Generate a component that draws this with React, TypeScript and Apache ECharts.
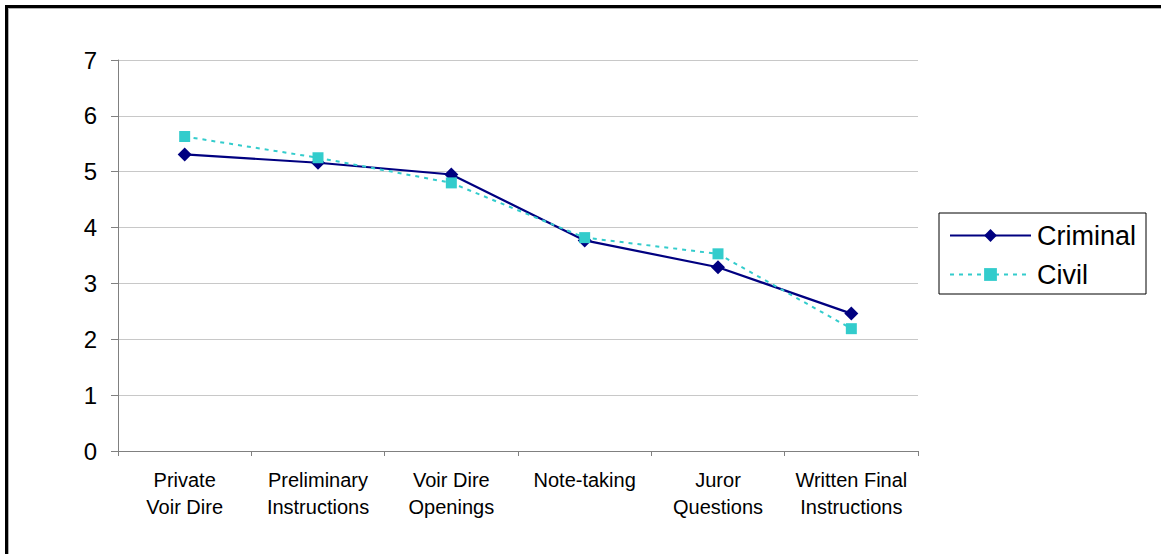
import React, { useEffect, useRef } from "react";
import * as echarts from "echarts";

const categories = [
  "Private\nVoir Dire",
  "Preliminary\nInstructions",
  "Voir Dire\nOpenings",
  "Note-taking",
  "Juror\nQuestions",
  "Written Final\nInstructions",
];
const criminalValues = [5.31, 5.16, 4.95, 3.77, 3.29, 2.46];
const civilValues = [5.63, 5.25, 4.8, 3.82, 3.53, 2.19];
const yTicks = { min: 0, max: 7, interval: 1 };

const FONT = "'Liberation Sans', Arial, sans-serif";

export default function App() {
  const ref = useRef<HTMLDivElement>(null);
  useEffect(() => {
    if (!ref.current) return;
    const chart = echarts.init(ref.current, undefined, { renderer: "svg" });
    chart.setOption({
      animation: false,
      backgroundColor: "#ffffff",
      textStyle: { fontFamily: FONT },
      grid: { left: 118, right: 243, top: 60, bottom: 103, containLabel: false },
      xAxis: {
        type: "category",
        data: categories,
        boundaryGap: true,
        axisLine: { show: true, lineStyle: { color: "#808080", width: 1 } },
        axisTick: { show: true, length: 5, alignWithLabel: false, lineStyle: { color: "#808080" } },
        axisLabel: {
          interval: 0,
          fontSize: 20,
          lineHeight: 27,
          color: "#000000",
          fontFamily: FONT,
          margin: 15,
        },
        splitLine: { show: false },
      },
      yAxis: {
        type: "value",
        min: yTicks.min,
        max: yTicks.max,
        interval: yTicks.interval,
        axisLine: { show: true, lineStyle: { color: "#808080", width: 1 } },
        axisTick: { show: true, length: 7, inside: false, lineStyle: { color: "#808080" } },
        axisLabel: { fontSize: 24, color: "#000000", fontFamily: FONT, margin: 21 },
        splitLine: { show: true, lineStyle: { color: "#c8c8c8", width: 1 } },
      },
      legend: {
        orient: "vertical",
        left: 939,
        top: 213,
        padding: [9, 10, 6, 10],
        borderColor: "#000000",
        borderWidth: 1,
        itemWidth: 81,
        itemHeight: 16,
        itemGap: 12,
        textStyle: {
          fontSize: 27,
          color: "#000000",
          fontFamily: FONT,
          padding: [0, 0, 0, 1],
        },
        data: ["Criminal", "Civil"],
      },
      graphic: [
        { type: "rect", shape: { x: 5, y: 5, width: 1161, height: 3 }, style: { fill: "#000000" }, silent: true },
        { type: "rect", shape: { x: 5, y: 5, width: 3, height: 560 }, style: { fill: "#000000" }, silent: true },
        { type: "rect", shape: { x: 8, y: 8, width: 1161, height: 1 }, style: { fill: "#b0b0b0" }, silent: true },
        { type: "rect", shape: { x: 8, y: 8, width: 1, height: 560 }, style: { fill: "#b0b0b0" }, silent: true },
      ],
      series: [
        {
          name: "Criminal",
          type: "line",
          data: criminalValues,
          symbol: "diamond",
          symbolSize: 14,
          lineStyle: { color: "#000080", width: 2.2, type: "solid" },
          itemStyle: { color: "#000080" },
          z: 3,
        },
        {
          name: "Civil",
          type: "line",
          data: civilValues,
          symbol: "rect",
          symbolSize: 11,
          lineStyle: { color: "#33cccc", width: 2, type: [4, 5] },
          itemStyle: { color: "#33cccc" },
          z: 4,
        },
      ],
    });
    return () => chart.dispose();
  }, []);
  return (
    <div
      ref={ref}
      style={{ position: "absolute", left: 0, top: 0, width: 1161, height: 554, background: "#fff" }}
    />
  );
}
